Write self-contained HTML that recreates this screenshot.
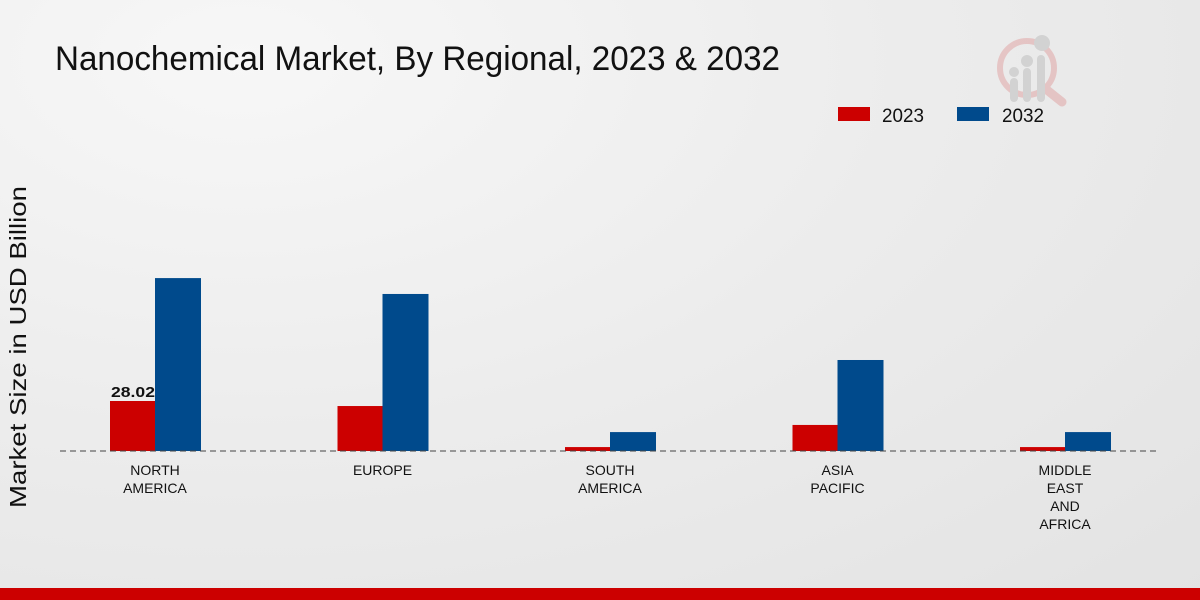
<!DOCTYPE html>
<html><head><meta charset="utf-8"><style>
html,body{margin:0;padding:0;width:1200px;height:600px;overflow:hidden}
body{background:radial-gradient(ellipse at 20% 10%,#f7f7f7 0%,#ececec 50%,#e3e3e3 100%);font-family:"Liberation Sans",sans-serif}
</style></head><body>
<svg id="chart" width="1200" height="600" xmlns="http://www.w3.org/2000/svg">
<text x="55" y="70" font-size="34" fill="#111" textLength="725" lengthAdjust="spacingAndGlyphs">Nanochemical Market, By Regional, 2023 &amp; 2032</text>
<text transform="translate(26,347) rotate(-90)" x="-161" y="0" font-size="23" fill="#111" textLength="322" lengthAdjust="spacingAndGlyphs">Market Size in USD Billion</text>
<g>
<rect x="838" y="107" width="32" height="14" fill="#cc0000"/>
<text x="882" y="122" font-size="19" fill="#111" textLength="42" lengthAdjust="spacingAndGlyphs">2023</text>
<rect x="957" y="107" width="32" height="14" fill="#004a8c"/>
<text x="1002" y="122" font-size="19" fill="#111" textLength="42" lengthAdjust="spacingAndGlyphs">2032</text>
</g>
<g opacity="0.5">
<circle cx="1027" cy="68" r="27" fill="none" stroke="#e0a0a0" stroke-width="6"/>
<line x1="1047" y1="90" x2="1062" y2="102" stroke="#e0a0a0" stroke-width="9" stroke-linecap="round"/>
<rect x="1010" y="78" width="8" height="24" rx="4" fill="#bbb"/><rect x="1023" y="68" width="8" height="34" rx="4" fill="#bbb"/><rect x="1037" y="55" width="8" height="47" rx="4" fill="#bbb"/>
<circle cx="1014" cy="72" r="5" fill="#bbb"/><circle cx="1027" cy="61" r="6" fill="#bbb"/><circle cx="1042" cy="43" r="8" fill="#bbb"/>
</g>
<g id="bars"></g>
<line x1="60" y1="451" x2="1160" y2="451" stroke="#444" stroke-dasharray="6,4" stroke-width="1"/>
<g id="xlabels"></g>
<rect x="0" y="588" width="1200" height="12" fill="#cc0000"/>
</svg>
<script>
const categories=[["NORTH","AMERICA"],["EUROPE"],["SOUTH","AMERICA"],["ASIA","PACIFIC"],["MIDDLE","EAST","AND","AFRICA"]];
const values2023=[28.02,25.2,2.2,14.6,2.2];
const values2032=[96.9,88.0,10.6,51.0,10.6];
const valueLabels=["28.02",null,null,null,null];
const NS="http://www.w3.org/2000/svg";
const base=451, scale=50/28.02, bw=45;
const xc=i=>155+i*227.5;
const y=v=>base-v*scale;
const bars=document.getElementById('bars'), xl=document.getElementById('xlabels');
function mk(t,a){const e=document.createElementNS(NS,t);for(const k in a)e.setAttribute(k,a[k]);return e;}
categories.forEach((c,i)=>{
  const r=mk('rect',{x:xc(i)-bw,y:y(values2023[i]),width:bw,height:values2023[i]*scale,fill:'#cc0000'});
  
  
  bars.appendChild(r);
  const b=mk('rect',{x:xc(i),y:y(values2032[i]),width:bw+1,height:values2032[i]*scale,fill:'#004a8c'});
  
  
  bars.appendChild(b);
  if(valueLabels[i]){const t=mk('text',{x:xc(i)-44,y:y(values2023[i])-4,'font-size':'15','font-weight':'bold',fill:'#111',textLength:'44',lengthAdjust:'spacingAndGlyphs'});t.textContent=valueLabels[i];
  
  
  bars.appendChild(t);}
  c.forEach((line,j)=>{const t=mk('text',{x:xc(i),y:475+j*18,'text-anchor':'middle','font-size':'14',fill:'#111'});t.textContent=line;
  
  
  xl.appendChild(t);});
});
</script>
</body></html>
